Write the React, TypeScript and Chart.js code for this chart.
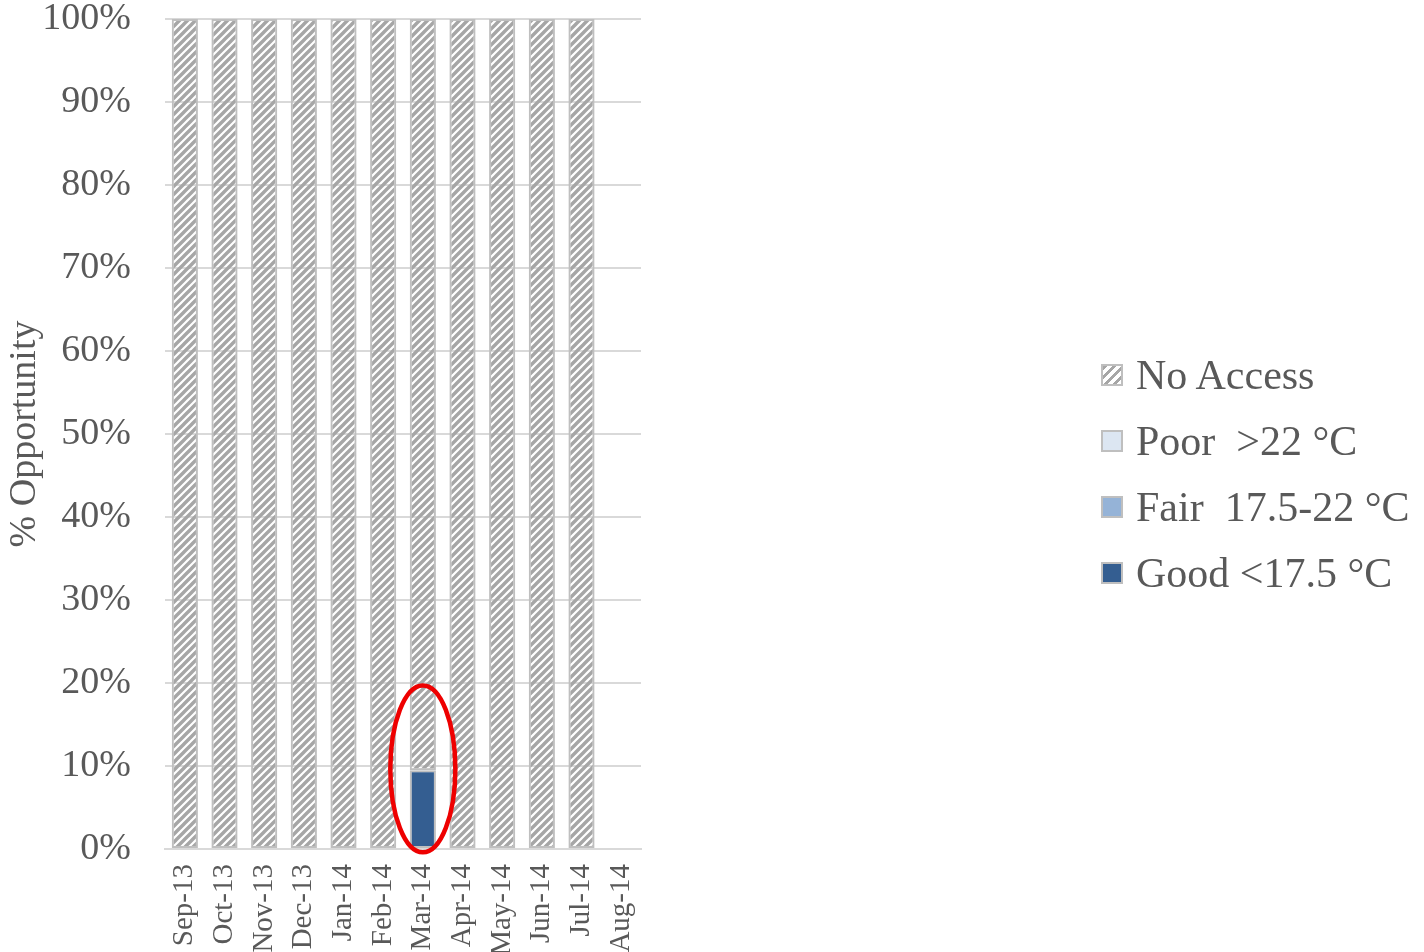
import { useEffect, useRef } from 'react';
import { Chart, registerables } from 'chart.js';

Chart.register(...registerables);

// Monthly share of opportunity by condition class
const months = ['Sep-13', 'Oct-13', 'Nov-13', 'Dec-13', 'Jan-14', 'Feb-14', 'Mar-14', 'Apr-14', 'May-14', 'Jun-14', 'Jul-14', 'Aug-14'];
const noAccess = [100, 100, 100, 100, 100, 100, 90.5, 100, 100, 100, 100, null];
const poor = [null, null, null, null, null, null, null, null, null, null, null, null];
const fair = [null, null, null, null, null, null, null, null, null, null, null, null];
const good = [null, null, null, null, null, null, 9.5, null, null, null, null, null];

const yTickValues = [0, 10, 20, 30, 40, 50, 60, 70, 80, 90, 100];

// Month circled on the chart and the value range the ring spans
const highlightMonth = 'Mar-14';
const highlightRange = [-0.4, 19.7];

const FONT = "'Liberation Serif', 'DejaVu Serif', serif";
const TEXT = '#595959';
const HATCH = '#a6a6a6';
const EDGE = '#bfbfbf';

const legendItems = [
  { label: 'No Access', color: 'hatch' },
  { label: 'Poor  >22 °C', color: '#dce6f2' },
  { label: 'Fair  17.5-22 °C', color: '#95b3d7' },
  { label: 'Good <17.5 °C', color: '#345e91' },
];

function makeHatch(): CanvasPattern | string {
  const c = document.createElement('canvas');
  c.width = 8;
  c.height = 8;
  const ctx = c.getContext('2d');
  if (!ctx) return HATCH;
  ctx.strokeStyle = HATCH;
  ctx.lineWidth = 3.4;
  ctx.lineCap = 'square';
  ctx.beginPath();
  ctx.moveTo(-2, 10);
  ctx.lineTo(10, -2);
  ctx.moveTo(-2, 2);
  ctx.lineTo(2, -2);
  ctx.moveTo(6, 10);
  ctx.lineTo(10, 6);
  ctx.stroke();
  return ctx.createPattern(c, 'repeat') || HATCH;
}

const ringPlugin = {
  id: 'ring',
  afterDatasetsDraw(chart: any) {
    const x = chart.scales.x;
    const y = chart.scales.y;
    const idx = months.indexOf(highlightMonth);
    if (idx < 0) return;
    const cx = x.getPixelForValue(idx);
    const step = (x.right - x.left) / months.length;
    const yTop = y.getPixelForValue(highlightRange[1]);
    const yBot = y.getPixelForValue(highlightRange[0]);
    const ctx = chart.ctx;
    ctx.save();
    ctx.strokeStyle = '#ee0000';
    ctx.lineWidth = 4.5;
    ctx.beginPath();
    ctx.ellipse(cx, (yTop + yBot) / 2, step * 0.82, (yBot - yTop) / 2, 0, 0, Math.PI * 2);
    ctx.stroke();
    ctx.restore();
  },
};

export default function App() {
  const ref = useRef<HTMLCanvasElement | null>(null);

  useEffect(() => {
    if (!ref.current) return;
    const hatch = makeHatch();
    const common = {
      borderColor: EDGE,
      borderWidth: 2,
      borderSkipped: false,
      barPercentage: 0.66,
      categoryPercentage: 1,
      stack: 's',
    };
    const chart = new Chart(ref.current, {
      type: 'bar',
      data: {
        labels: months,
        datasets: [
          { ...common, label: 'Good <17.5 °C', data: good, backgroundColor: '#345e91' },
          { ...common, label: 'Fair  17.5-22 °C', data: fair, backgroundColor: '#95b3d7' },
          { ...common, label: 'Poor  >22 °C', data: poor, backgroundColor: '#dce6f2' },
          { ...common, label: 'No Access', data: noAccess, backgroundColor: hatch as any },
        ] as any,
      },
      options: {
        animation: false,
        responsive: false,
        maintainAspectRatio: false,
        layout: { padding: { top: 19, right: 783, bottom: 0, left: 0 } },
        plugins: {
          legend: { display: false },
          tooltip: { enabled: false },
        },
        scales: {
          x: {
            stacked: true,
            grid: { display: false, drawTicks: false },
            border: { display: true, color: '#d9d9d9', width: 2 },
            ticks: {
              color: TEXT,
              font: { family: FONT, size: 29 },
              minRotation: 90,
              maxRotation: 90,
              padding: 15,
              autoSkip: false,
            },
            afterFit(scale: any) {
              scale.height = 103;
            },
          },
          y: {
            stacked: true,
            min: 0,
            max: 100,
            afterBuildTicks(scale: any) {
              scale.ticks = yTickValues.map((v) => ({ value: v }));
            },
            grid: { color: '#d9d9d9', lineWidth: 2, drawTicks: false },
            border: { display: false },
            ticks: {
              color: TEXT,
              font: { family: FONT, size: 38, lineHeight: 1 },
              padding: 34,
              callback: (v: any) => `${v}%`,
            },
            title: {
              display: true,
              text: '% Opportunity',
              color: TEXT,
              font: { family: FONT, size: 38 },
              padding: { top: 2, bottom: 0 },
            },
            afterFit(scale: any) {
              scale.width = 165;
              scale.paddingTop = 0;
              scale.paddingBottom = 0;
            },
          },
        },
      },
      plugins: [ringPlugin],
    });
    return () => chart.destroy();
  }, []);

  return (
    <div style={{ position: 'fixed', left: 0, top: 0, width: 1424, height: 952, background: '#fff', overflow: 'hidden' }}>
      <canvas ref={ref} width={1424} height={952} style={{ display: 'block', width: 1424, height: 952 }} />
      <div style={{ position: 'absolute', left: 1101, top: 342, fontFamily: FONT, color: TEXT, fontSize: 42 }}>
        {legendItems.map((it) => (
          <div key={it.label} style={{ display: 'flex', alignItems: 'center', height: 66, whiteSpace: 'pre' }}>
            <span
              style={{
                display: 'inline-block',
                width: 22,
                height: 22,
                boxSizing: 'border-box',
                border: `2px solid ${EDGE}`,
                marginRight: 13,
                background:
                  it.color === 'hatch'
                    ? `repeating-linear-gradient(135deg, ${HATCH} 0 3px, transparent 3px 6.5px)`
                    : it.color,
              }}
            />
            <span>{it.label}</span>
          </div>
        ))}
      </div>
    </div>
  );
}
